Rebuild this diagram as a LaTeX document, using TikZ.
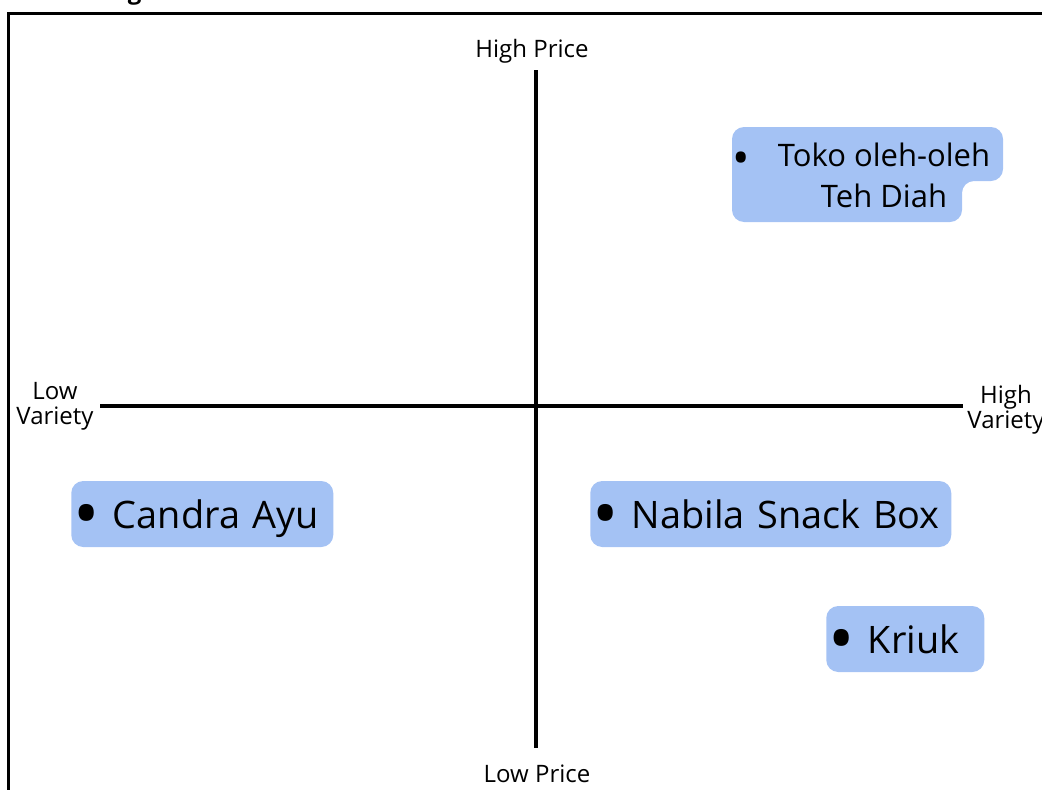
\documentclass[tikz,border=0pt]{standalone}
\usepackage{fontspec}
\setmainfont{Open Sans}
\usepackage{graphicx}
\usepackage{tikz}
\usetikzlibrary{positioning}
\definecolor{shopblue}{HTML}{A4C2F4}
\newcommand{\shopdot}[1]{\raisebox{-0.29em}{\scalebox{#1}{•}}}

\begin{document}
\begin{tikzpicture}[x=0.75pt, y=-0.75pt,
    axis/.style={line width=3.4pt},
    axislabel/.style={font=\fontsize{18}{18.5}\selectfont, align=center, inner sep=0pt},
    shop/.style={fill=shopblue, rounded corners=9pt, anchor=west, inner xsep=2pt, inner ysep=0pt,
        align=left, minimum height=49.5pt, text height=26pt, text depth=5pt,
        font=\fontsize{28.4}{33}\selectfont}]
    \useasboundingbox (0,0) rectangle (1042,789);

    % Frame and title
    \draw[line width=1.9pt] (8.7,13.3) rectangle (1100,850);
    \node[anchor=base west, inner sep=0pt, font=\fontsize{18}{22}\selectfont\bfseries] (title) at (7,-0.5) {Positioning};

    % Axes
    \coordinate (ptop) at (536,70);
    \coordinate (pbot) at (536,748);
    \coordinate (vleft) at (100,406);
    \coordinate (vright) at (963,406);
    \draw[axis] (ptop) -- (pbot);
    \draw[axis] (vleft) -- (vright);

    \node[axislabel, anchor=base] (highprice) at (532,57) {High Price};
    \node[axislabel, anchor=base] (lowprice) at (537,782) {Low Price};
    \node[axislabel] (lowvar) at (55,406) {Low\\Variety};
    \node[axislabel] (highvar) at (1006,410) {High\\Variety};

    % Shops
    \fill[shopblue, rounded corners=9pt] (732,127) -- (1003,127) -- (1003,181) -- (962,181) -- (962,222) -- (732,222) -- cycle;
    \node[anchor=base, inner sep=0pt, font=\fontsize{23.25}{30.75}\selectfont] (tokodot) at (741,166) {\shopdot{1.5}};
    \node[inner sep=0pt, align=center, font=\fontsize{23.25}{30.75}\selectfont] (toko) at (884,175) {Toko oleh-oleh\\Teh Diah};

    \node[shop, text width=192.5pt] (candra) at (71,514) {\shopdot{1.85}\hspace{9.5pt}Candra Ayu};
    \node[shop, text width=266.75pt] (nabila) at (590,514) {\shopdot{1.85}\hspace{9.5pt}Nabila Snack Box};
    \node[shop, text width=114.5pt] (kriuk) at (826,639) {\shopdot{1.85}\hspace{9.5pt}Kriuk};
\end{tikzpicture}
\end{document}
